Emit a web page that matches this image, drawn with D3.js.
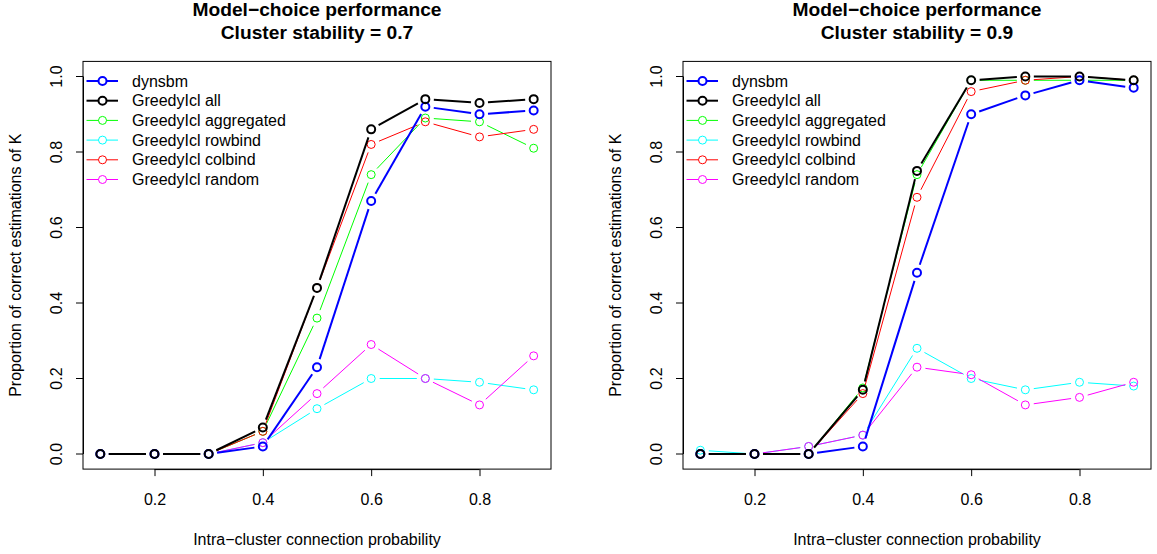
<!DOCTYPE html>
<html>
<head>
<meta charset="utf-8">
<script src="https://cdn.jsdelivr.net/npm/d3@7"></script>
<title>Model-choice performance</title>
<style>
body { margin: 0; background: #fff; }
text { font-family: "Liberation Sans", Arial, sans-serif; }
</style>
</head>
<body>
<script>

var width = 1157,
    height = 554;

// x values (intra-cluster connection probability)
var probs = [0.1, 0.2, 0.3, 0.4, 0.5, 0.6, 0.7, 0.8, 0.9];
var xTicks = [0.2, 0.4, 0.6, 0.8];
var yTicks = [0.0, 0.2, 0.4, 0.6, 0.8, 1.0];

var seriesNames = ["dynsbm", "GreedyIcl all", "GreedyIcl aggregated",
                   "GreedyIcl rowbind", "GreedyIcl colbind", "GreedyIcl random"];
var seriesColors = ["#0000FF", "#000000", "#00FF00", "#00FFFF", "#FF0000", "#FF00FF"];
var seriesWidths = [2, 2, 1, 1, 1, 1];
var drawOrder = [2, 3, 4, 5, 0, 1]; // thick lines on top

var stabilities = ["0.7", "0.9"];

// cluster stability = 0.7
var dynsbm07     = [0, 0, 0, 0.02, 0.23, 0.67, 0.92, 0.90, 0.91];
var all07        = [0, 0, 0, 0.07, 0.44, 0.86, 0.94, 0.93, 0.94];
var aggregated07 = [0, 0, 0, 0.06, 0.36, 0.74, 0.89, 0.88, 0.81];
var rowbind07    = [0, 0, 0, 0.03, 0.12, 0.20, 0.20, 0.19, 0.17];
var colbind07    = [0, 0, 0, 0.06, 0.44, 0.82, 0.88, 0.84, 0.86];
var random07     = [0, 0, 0, 0.03, 0.16, 0.29, 0.20, 0.13, 0.26];

// cluster stability = 0.9
var dynsbm09     = [0, 0, 0, 0.02, 0.48, 0.90, 0.95, 0.99, 0.97];
var all09        = [0, 0, 0, 0.17, 0.75, 0.99, 1.00, 1.00, 0.99];
var aggregated09 = [0, 0, 0, 0.175, 0.74, 0.99, 0.99, 0.99, 0.99];
var rowbind09    = [0.01, 0, 0.02, 0.05, 0.28, 0.20, 0.17, 0.19, 0.18];
var colbind09    = [0, 0, 0, 0.16, 0.68, 0.96, 0.99, 1.00, 0.99];
var random09     = [0, 0, 0.02, 0.05, 0.23, 0.21, 0.13, 0.15, 0.19];

var panels = [
  [dynsbm07, all07, aggregated07, rowbind07, colbind07, random07],
  [dynsbm09, all09, aggregated09, rowbind09, colbind09, random09]
];

var svg = d3.select("body")
  .append("svg")
  .attr("width", width)
  .attr("height", height);

var plotW = 468, plotTop = 61.4, plotBottom = 469.1;
var gap = 8.5; // space left around points, like R type="b"
var fs = 16;

function drawPanel(left, stab, data) {
  var g = svg.append("g");

  // same 4% padding as R
  var x = d3.scaleLinear().domain([0.068, 0.932]).range([left, left + plotW]);
  var y = d3.scaleLinear().domain([-0.04, 1.04]).range([plotBottom, plotTop]);

  // title
  var cx = left + plotW / 2;
  g.append("text").attr("x", cx).attr("y", 16)
    .attr("text-anchor", "middle").attr("font-size", 19.2).attr("font-weight", "bold")
    .text("Model\u2212choice performance");
  g.append("text").attr("x", cx).attr("y", 39)
    .attr("text-anchor", "middle").attr("font-size", 19.2).attr("font-weight", "bold")
    .text("Cluster stability = " + stab);

  // axes
  var xAxis = g.append("g").attr("transform", "translate(0," + plotBottom + ")")
    .call(d3.axisBottom(x).tickValues(xTicks).tickSize(7)
      .tickFormat(d3.format(".1f")));
  var yAxis = g.append("g").attr("transform", "translate(" + left + ",0)")
    .call(d3.axisLeft(y).tickValues(yTicks).tickSize(7).tickFormat(d3.format(".1f")));

  xAxis.select(".domain").attr("d", "M" + x(0.2) + ",0.5H" + x(0.8));
  yAxis.select(".domain").attr("d", "M0.5," + y(0) + "V" + y(1));
  xAxis.selectAll("text").attr("font-size", fs).attr("font-family", null)
    .attr("y", 36).attr("dy", null);
  yAxis.selectAll("text").attr("font-size", fs).attr("font-family", null)
    .attr("text-anchor", "middle")
    .attr("transform", function(d) { return "rotate(-90," + (-21.5) + "," + y(d) + ")"; })
    .attr("x", -21.5).attr("y", function(d) { return y(d); })
    .attr("dy", null);
  yAxis.selectAll(".tick").attr("transform", null);
  yAxis.selectAll(".tick line").attr("transform", function(d) { return "translate(0," + y(d) + ")"; });

  // box
  g.append("rect")
    .attr("x", left).attr("y", plotTop)
    .attr("width", plotW).attr("height", plotBottom - plotTop)
    .attr("fill", "none").attr("stroke", "#000").attr("stroke-width", 1);

  // axis titles
  g.append("text").attr("x", cx).attr("y", 545)
    .attr("text-anchor", "middle").attr("font-size", fs)
    .text("Intra\u2212cluster connection probability");
  g.append("text")
    .attr("transform", "translate(" + (left - 62) + "," + ((plotTop + plotBottom) / 2) + ") rotate(-90)")
    .attr("text-anchor", "middle").attr("font-size", fs)
    .text("Proportion of correct estimations of K");

  // series
  drawOrder.forEach(function(s) {
    var vals = data[s];
    var pts = vals.map(function(v, i) { return [x(probs[i]), y(v)]; });
    var sg = g.append("g")
      .attr("stroke", seriesColors[s])
      .attr("stroke-width", seriesWidths[s])
      .attr("fill", "none");
    for (var i = 0; i < pts.length - 1; i++) {
      var a = pts[i], b = pts[i + 1];
      var dx = b[0] - a[0], dy = b[1] - a[1];
      var len = Math.sqrt(dx * dx + dy * dy);
      if (len <= 2 * gap) continue;
      var ux = dx / len, uy = dy / len;
      sg.append("line")
        .attr("x1", a[0] + ux * gap).attr("y1", a[1] + uy * gap)
        .attr("x2", b[0] - ux * gap).attr("y2", b[1] - uy * gap);
    }
    sg.selectAll("circle")
      .data(pts)
      .enter()
      .append("circle")
      .attr("cx", function(d) { return d[0]; })
      .attr("cy", function(d) { return d[1]; })
      .attr("r", 4);
  });

  // legend
  var lg = g.append("g");
  seriesNames.forEach(function(name, s) {
    var ly = 81 + s * 19.7;
    var row = lg.append("g");
    row.append("line")
      .attr("x1", left + 3.5).attr("x2", left + 35)
      .attr("y1", ly).attr("y2", ly)
      .attr("stroke", seriesColors[s]).attr("stroke-width", seriesWidths[s]);
    row.append("circle")
      .attr("cx", left + 19.5).attr("cy", ly).attr("r", 4)
      .attr("fill", "#fff").attr("stroke", seriesColors[s]).attr("stroke-width", seriesWidths[s]);
    row.append("text")
      .attr("x", left + 49).attr("y", ly).attr("dy", "0.35em")
      .attr("font-size", fs)
      .text(name);
  });
}

drawPanel(83, stabilities[0], panels[0]);
drawPanel(683, stabilities[1], panels[1]);

</script>
</body>
</html>
